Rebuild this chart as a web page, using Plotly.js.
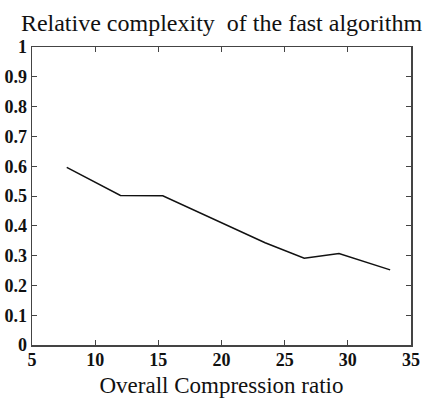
<!DOCTYPE html>
<html>
<head>
<meta charset="utf-8">
<script src="https://cdn.plot.ly/plotly-3.0.1.min.js"></script>
<style>html,body{margin:0;padding:0;background:#fff;}#chart{width:428px;height:402px;}</style>
</head>
<body>
<div id="chart"></div>
<script>
const compressionRatio = [7.75, 12.0, 15.35, 23.45, 26.55, 29.3, 33.35];
const relativeComplexity = [0.596, 0.502, 0.501, 0.343, 0.291, 0.307, 0.252];
const xTicks = [5, 10, 15, 20, 25, 30, 35];
const yTicks = [0, 0.1, 0.2, 0.3, 0.4, 0.5, 0.6, 0.7, 0.8, 0.9, 1];
const yTickLabels = ['0', '0.1', '0.2', '0.3', '0.4', '0.5', '0.6', '0.7', '0.8', '0.9', '1'];

const serif = '"Liberation Serif"';
const trace = {
  x: compressionRatio,
  y: relativeComplexity,
  mode: 'lines',
  line: {color: '#111', width: 1.5},
  hoverinfo: 'skip'
};
const axisCommon = {
  showgrid: false, zeroline: false, showline: true, mirror: 'ticks',
  linecolor: '#444', linewidth: 1.5,
  ticks: 'inside', ticklen: 5, tickcolor: '#444', tickwidth: 1,
  tickfont: {family: serif, size: 18, color: '#111', weight: 'bold'}
};
const layout = {
  width: 428, height: 402,
  margin: {l: 32, r: 17, t: 47, b: 57},
  paper_bgcolor: '#fff', plot_bgcolor: '#fff',
  showlegend: false,
  title: {text: 'Relative complexity&nbsp;&nbsp;of the fast algorithm', font: {family: serif, size: 24, color: '#111'},
          x: 0.5, xanchor: 'center', y: 0.945, yanchor: 'middle', xref: 'paper'},
  xaxis: Object.assign({}, axisCommon, {
    range: [5, 35], tickvals: xTicks, ticktext: xTicks.map(String), ticklabelstandoff: -2,
    title: {text: 'Overall Compression ratio', font: {family: serif, size: 23, color: '#111'}, standoff: 8}
  }),
  yaxis: Object.assign({}, axisCommon, {
    range: [0, 1], tickvals: yTicks, ticktext: yTickLabels, ticklabelstandoff: 0
  })
};
Plotly.newPlot('chart', [trace], layout, {displayModeBar: false, staticPlot: true});
</script>
</body>
</html>
